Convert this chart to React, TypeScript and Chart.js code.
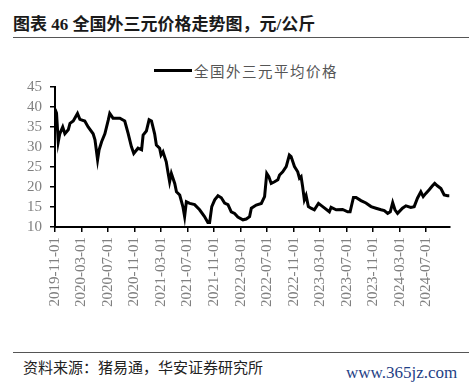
import React, { useEffect, useRef } from "react";
import { Chart, registerables } from "chart.js";

Chart.register(...registerables);

const titleText = "图表 46 全国外三元价格走势图，元/公斤";
const seriesName = "全国外三元平均价格";
const sourceText = "资料来源：猪易通，华安证券研究所";
const watermark = "www.365jz.com";

const tickLabels = [
  "2019-11-01", "2020-03-01", "2020-07-01", "2020-11-01", "2021-03-01",
  "2021-07-01", "2021-11-01", "2022-03-01", "2022-07-01", "2022-11-01",
  "2023-03-01", "2023-07-01", "2023-11-01", "2024-03-01", "2024-07-01",
];

const yTicks = [10, 15, 20, 25, 30, 35, 40, 45];

const dates = [
  "2019-11-01", "2019-11-08", "2019-11-16", "2019-11-23", "2019-12-06", "2019-12-16",
  "2020-01-01", "2020-01-09", "2020-01-24", "2020-02-13", "2020-02-24", "2020-03-16",
  "2020-04-01", "2020-04-24", "2020-05-02", "2020-05-14", "2020-05-21", "2020-06-02",
  "2020-06-17", "2020-07-02", "2020-07-09", "2020-07-24", "2020-08-25", "2020-09-17",
  "2020-10-02", "2020-10-17", "2020-10-28", "2020-11-17", "2020-12-03", "2020-12-10",
  "2020-12-25", "2021-01-07", "2021-01-18", "2021-02-02", "2021-02-10", "2021-02-25",
  "2021-03-01", "2021-03-10", "2021-03-25", "2021-04-02", "2021-04-10", "2021-04-18",
  "2021-05-03", "2021-05-11", "2021-05-26", "2021-06-10", "2021-06-18", "2021-06-26",
  "2021-07-11", "2021-08-03", "2021-08-26", "2021-09-18", "2021-10-03", "2021-10-11",
  "2021-10-21", "2021-11-04", "2021-11-19", "2021-12-04", "2021-12-19", "2022-01-04",
  "2022-01-19", "2022-02-04", "2022-02-19", "2022-03-12", "2022-03-27", "2022-04-12",
  "2022-04-20", "2022-05-12", "2022-06-05", "2022-06-20", "2022-06-30", "2022-07-09",
  "2022-07-20", "2022-08-05", "2022-08-20", "2022-08-28", "2022-09-12", "2022-09-28",
  "2022-10-12", "2022-10-20", "2022-11-05", "2022-11-20", "2022-11-28", "2022-12-05",
  "2022-12-12", "2022-12-20", "2022-12-28", "2023-01-08", "2023-01-20", "2023-02-05",
  "2023-02-24", "2023-03-13", "2023-04-13", "2023-04-21", "2023-05-14", "2023-06-13",
  "2023-07-06", "2023-07-17", "2023-08-02", "2023-08-14", "2023-09-06", "2023-09-29",
  "2023-10-22", "2023-11-14", "2023-12-07", "2023-12-22", "2024-01-07", "2024-01-19",
  "2024-01-30", "2024-02-10", "2024-02-22", "2024-03-14", "2024-03-30", "2024-04-22",
  "2024-05-07", "2024-05-22", "2024-06-07", "2024-06-18", "2024-06-30", "2024-07-15",
  "2024-07-30", "2024-08-10", "2024-08-22", "2024-09-08", "2024-09-23", "2024-10-08",
  "2024-10-16",
];

const prices = [
  39.5, 38.5, 31.3, 33.3, 35.0, 33.3,
  34.3, 35.9, 36.5, 38.4, 36.9, 36.5,
  35.0, 33.3, 31.8, 26.8, 29.3, 31.3,
  33.3, 36.7, 38.4, 37.2, 37.2, 36.5,
  33.4, 30.1, 28.4, 29.7, 29.3, 33.0,
  34.0, 36.8, 36.5, 33.3, 30.5, 29.7,
  28.0, 28.8, 26.3, 23.8, 21.3, 23.4,
  20.9, 18.8, 18.0, 15.1, 12.6, 16.3,
  15.9, 15.6, 14.3, 12.6, 11.1, 11.1,
  15.1, 16.8, 17.8, 17.3, 16.0, 15.6,
  13.8, 13.4, 12.5, 11.8, 12.0, 12.6,
  14.7, 15.5, 15.9, 17.6, 23.4, 22.6,
  20.9, 21.3, 21.8, 23.0, 23.8, 25.1,
  28.0, 27.6, 25.1, 23.8, 22.2, 22.6,
  20.1, 16.8, 17.9, 15.1, 14.7, 14.3,
  15.9, 15.1, 13.8, 14.9, 14.3, 14.4,
  13.8, 13.8, 17.4, 17.4, 16.6, 16.0,
  15.1, 14.7, 14.3, 14.1, 13.4, 13.8,
  16.1, 14.3, 13.4, 14.7, 15.3, 14.9,
  15.1, 17.2, 18.8, 17.6, 18.4, 19.3,
  20.3, 20.9, 20.3, 19.6, 18.0, 17.8,
  17.8,
];

function monthIndex(d: string): number {
  const [y, m, dd] = d.split("-").map(Number);
  return (y - 2019) * 12 + (m - 11) + (dd - 1) / 30.5;
}

const serif = "'Liberation Serif', 'Noto Sans CJK SC', serif";

export default function App() {
  const ref = useRef<HTMLCanvasElement | null>(null);

  useEffect(() => {
    if (!ref.current) return;
    const points = dates.map((d, i) => ({ x: monthIndex(d), y: prices[i] }));
    const tickVals = tickLabels.map(monthIndex);
    const chart = new Chart(ref.current, {
      type: "line",
      data: {
        datasets: [
          {
            label: seriesName,
            data: points,
            borderColor: "#000000",
            borderWidth: 3,
            pointRadius: 0,
            tension: 0,
            fill: false,
          },
        ],
      },
      options: {
        animation: false,
        responsive: false,
        events: [],
        layout: { padding: { top: 87, left: 0, right: 19, bottom: 0 } },
        plugins: {
          legend: { display: false },
          title: { display: false },
          tooltip: { enabled: false },
        },
        scales: {
          x: {
            type: "linear",
            min: 0,
            max: 59.6,
            afterFit: (s: any) => {
              s.height = 340 - 227;
            },
            afterBuildTicks: (s: any) => {
              s.ticks = tickVals.map((v) => ({ value: v }));
            },
            border: { display: true, color: "#000000", width: 2 },
            grid: {
              display: true,
              drawOnChartArea: false,
              drawTicks: true,
              tickLength: 5,
              tickColor: "#000000",
              lineWidth: 1.5,
            },
            ticks: {
              autoSkip: false,
              minRotation: 90,
              maxRotation: 90,
              padding: 5,
              color: "#808080",
              font: { family: serif, size: 15 },
              callback: (v: any) => {
                const idx = tickVals.findIndex((t) => Math.abs(t - Number(v)) < 0.01);
                return idx >= 0 ? tickLabels[idx] : "";
              },
            },
          },
          y: {
            min: 10,
            max: 45,
            afterFit: (s: any) => {
              s.width = 55;
            },
            afterBuildTicks: (s: any) => {
              s.ticks = yTicks.map((v) => ({ value: v }));
            },
            border: { display: true, color: "#000000", width: 2 },
            grid: {
              display: true,
              drawOnChartArea: false,
              drawTicks: true,
              tickLength: 5,
              tickColor: "#000000",
              lineWidth: 1.5,
            },
            ticks: {
              autoSkip: false,
              padding: 8,
              color: "#808080",
              font: { family: serif, size: 15 },
            },
          },
        },
      },
    });
    return () => chart.destroy();
  }, []);

  return (
    <div
      style={{
        position: "fixed",
        left: 0,
        top: 0,
        width: 469,
        height: 390,
        background: "#ffffff",
        overflow: "hidden",
      }}
    >
      <div
        style={{
          position: "absolute",
          left: 13,
          top: 14,
          fontFamily: serif,
          fontWeight: "bold",
          fontSize: 17,
          lineHeight: "22px",
          color: "#1a1a1a",
          whiteSpace: "nowrap",
        }}
      >
        {titleText}
      </div>
      <div
        style={{
          position: "absolute",
          left: 13,
          top: 37,
          width: 456,
          height: 0,
          borderTop: "1.5px solid #555555",
        }}
      />
      <div
        style={{
          position: "absolute",
          left: 154,
          top: 69,
          width: 38,
          height: 3,
          background: "#000000",
        }}
      />
      <div
        style={{
          position: "absolute",
          left: 194,
          top: 61,
          fontFamily: "'Noto Sans CJK SC', sans-serif",
          fontSize: 14.5,
          letterSpacing: "1.5px",
          lineHeight: "20px",
          color: "#555555",
          whiteSpace: "nowrap",
        }}
      >
        {seriesName}
      </div>
      <canvas
        ref={ref}
        width={469}
        height={340}
        style={{ position: "absolute", left: 0, top: 0, width: 469, height: 340 }}
      />
      <div
        style={{
          position: "absolute",
          left: 13,
          top: 352,
          width: 456,
          height: 0,
          borderTop: "1px solid #555555",
        }}
      />
      <div
        style={{
          position: "absolute",
          left: 23,
          top: 357,
          fontFamily: "'Noto Sans CJK SC', sans-serif",
          fontSize: 15,
          lineHeight: "20px",
          color: "#222222",
          whiteSpace: "nowrap",
        }}
      >
        {sourceText}
      </div>
      <div
        style={{
          position: "absolute",
          left: 346,
          top: 363,
          fontFamily: serif,
          fontSize: 17,
          lineHeight: "20px",
          color: "#1f3f86",
          whiteSpace: "nowrap",
        }}
      >
        {watermark}
      </div>
    </div>
  );
}
